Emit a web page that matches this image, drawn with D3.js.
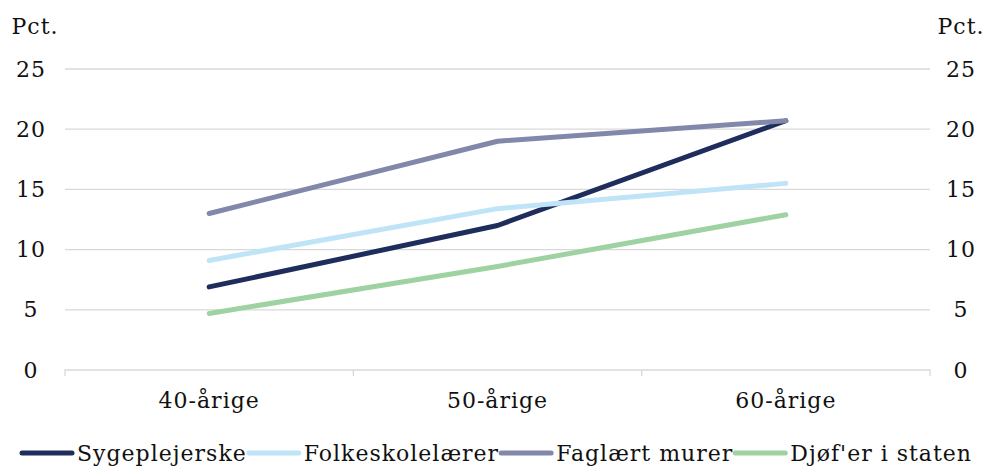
<!DOCTYPE html>
<html><head><meta charset="utf-8">
<script src="https://cdn.jsdelivr.net/npm/d3@7"></script>
<style>body{margin:0;background:#fff}svg text{font-family:"DejaVu Serif",serif;fill:#111;letter-spacing:1px}</style>
</head><body><svg id="c" width="987" height="466"></svg>
<script>
const categories = ["40-årige","50-årige","60-årige"];
const seriesNames = ["Sygeplejerske","Folkeskolelærer","Faglært murer","Djøf'er i staten"];
const sygeplejerske = [6.9, 12.0, 20.7];
const folkeskolelaerer = [9.1, 13.4, 15.5];
const faglaertMurer = [13.0, 19.0, 20.7];
const djoefer = [4.7, 8.6, 12.9];
const yTicks = [0,5,10,15,20,25];
const colors = ["#1f2d5c","#bfe4f7","#8288aa","#9fd2a2"];
const seriesValues = [sygeplejerske, folkeskolelaerer, faglaertMurer, djoefer];

const FS = "22px";
const svg = d3.select("#c");
const x = d3.scaleBand().domain(categories).range([65,930]);
const y = d3.scaleLinear().domain([0,25]).range([370,69]);

// gridlines
svg.append("g").selectAll("line").data(yTicks.filter(d=>d>0)).join("line")
  .attr("x1",65).attr("x2",930).attr("y1",d=>y(d)).attr("y2",d=>y(d))
  .attr("stroke","#d9d9d9").attr("stroke-width",1.3);
// x axis
const xa = svg.append("g").attr("transform","translate(0,370)")
  .call(d3.axisBottom(x).tickSize(0).tickPadding(22));
xa.select(".domain").attr("stroke","#d9d9d9").attr("stroke-width",1.3).attr("d","M65,6V0H930V6");
xa.selectAll("text").style("font-size",FS);
// category boundary ticks
svg.append("g").selectAll("line").data(categories.slice(1)).join("line")
  .attr("x1",d=>x(d)).attr("x2",d=>x(d)).attr("y1",370).attr("y2",376)
  .attr("stroke","#d9d9d9").attr("stroke-width",1.3);
// y axes
const yl = svg.append("g").attr("transform","translate(31,0)")
  .call(d3.axisLeft(y).tickValues(yTicks).tickSize(0).tickPadding(0));
yl.select(".domain").remove();
yl.selectAll("text").attr("text-anchor","middle").style("font-size",FS);
const yr = svg.append("g").attr("transform","translate(961,0)")
  .call(d3.axisRight(y).tickValues(yTicks).tickSize(0).tickPadding(0));
yr.select(".domain").remove();
yr.selectAll("text").attr("text-anchor","middle").style("font-size",FS);
svg.append("text").attr("x",35).attr("y",34).attr("text-anchor","middle").style("font-size",FS).text("Pct.");
svg.append("text").attr("x",961).attr("y",34).attr("text-anchor","middle").style("font-size",FS).text("Pct.");

// lines
const line = d3.line().x((d,i)=>x(categories[i])+x.bandwidth()/2).y(d=>y(d));
svg.append("g").selectAll("path").data(seriesValues).join("path")
  .attr("d",line).attr("fill","none")
  .attr("stroke",(d,i)=>colors[i]).attr("stroke-width",5)
  .attr("stroke-linecap","round").attr("stroke-linejoin","round");

// legend
const lg = svg.append("g");
let lx = 20;
seriesNames.forEach((n,i)=>{
  lg.append("line").attr("x1",lx+2).attr("x2",lx+52).attr("y1",453).attr("y2",453)
    .attr("stroke",colors[i]).attr("stroke-width",5).attr("stroke-linecap","round");
  const t = lg.append("text").attr("x",lx+57).attr("y",461).style("font-size",FS).text(n);
  lx = lx + 57 + t.node().getComputedTextLength();
});
</script></body></html>
